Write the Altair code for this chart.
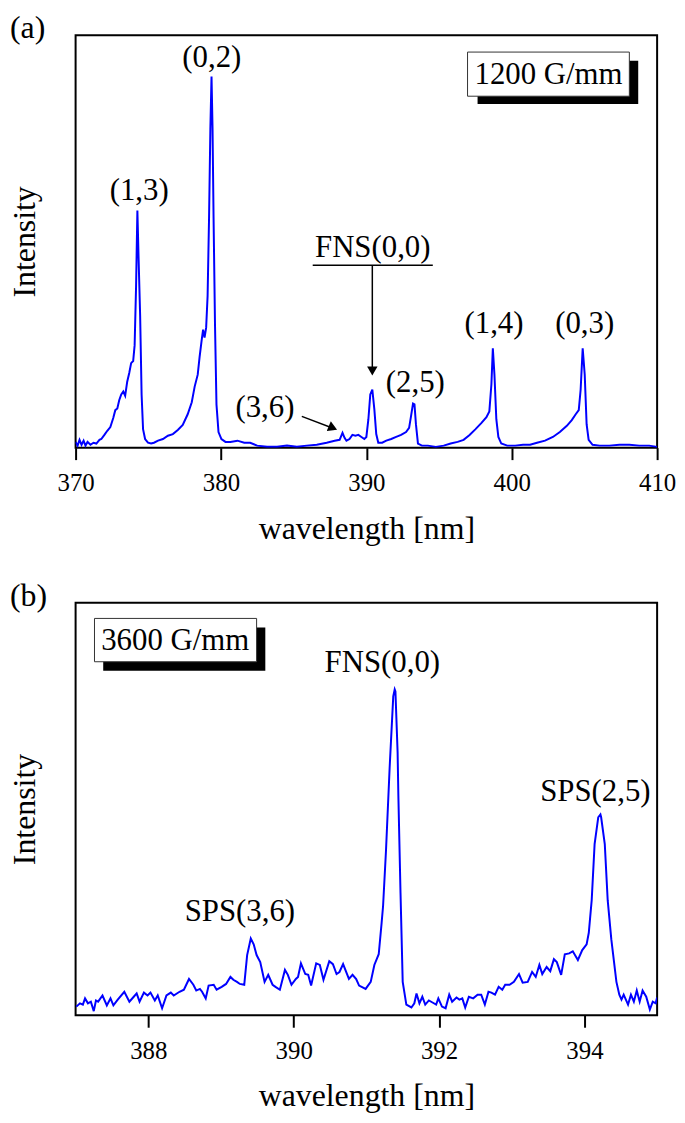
import altair as alt
import pandas as pd

FONT = "Liberation Serif"
BLUE = "#0000ff"

# ---------------- panel (a): 1200 G/mm ----------------
a_wl = [370.00, 370.14, 370.27, 370.41, 370.55, 370.68, 370.82, 371.02, 371.23, 371.43,
        371.64, 371.77, 371.98, 372.18, 372.39, 372.59, 372.73, 372.87, 373.00, 373.14,
        373.28, 373.41, 373.55, 373.69, 373.82, 373.96, 374.06, 374.16, 374.25, 374.33,
        374.44, 374.54, 374.64, 374.78, 374.98, 375.19, 375.39, 375.67, 376.01, 376.35,
        376.69, 377.03, 377.37, 377.71, 377.99, 378.19, 378.40, 378.53, 378.67, 378.77,
        378.87, 378.98, 379.08, 379.18, 379.27, 379.35, 379.42, 379.49, 379.59, 379.69,
        379.83, 380.03, 380.31, 380.65, 381.13, 381.60, 382.01, 382.49, 383.17, 383.86,
        384.54, 385.22, 385.90, 386.59, 387.27, 387.82, 388.16, 388.36, 388.50, 388.63,
        388.84, 389.04, 389.25, 389.45, 389.66, 389.86, 390.00, 390.14, 390.27, 390.41,
        390.55, 390.68, 390.82, 391.09, 391.37, 391.71, 392.05, 392.39, 392.73, 392.94,
        393.07, 393.21, 393.31, 393.41, 393.55, 393.82, 394.23, 394.78, 395.32, 395.80,
        396.28, 396.69, 397.10, 397.51, 397.92, 398.26, 398.46, 398.60, 398.70, 398.81,
        398.94, 399.08, 399.28, 399.69, 400.24, 400.78, 401.26, 401.74, 402.29, 402.83,
        403.31, 403.79, 404.13, 404.40, 404.61, 404.74, 404.88, 405.02, 405.15, 405.29,
        405.56, 406.04, 406.72, 407.41, 408.09, 408.77, 409.45, 410.00]
a_int = [1.4, 0.5, 1.9, 0.7, 1.7, 0.5, 1.4, 0.7, 1.2, 1.0,
         1.9, 2.1, 3.1, 4.1, 5.0, 7.2, 9.1, 9.5, 11.5, 12.9,
         13.6, 12.6, 16.0, 18.1, 20.5, 21.0, 24.8, 39.1, 57.5, 46.3,
         32.0, 12.9, 4.5, 2.1, 1.2, 1.0, 1.2, 1.7, 2.1, 2.9,
         3.3, 4.3, 5.5, 8.1, 11.0, 14.8, 17.7, 22.0, 26.0, 28.6,
         26.7, 29.1, 36.8, 55.8, 77.3, 90.0, 77.3, 55.8, 29.6, 10.5,
         3.8, 2.1, 1.4, 1.4, 1.7, 1.2, 1.2, 0.5, 0.2, 0.2,
         0.5, 0.2, 0.5, 0.7, 1.2, 1.7, 1.9, 3.6, 2.4, 1.7,
         2.1, 3.1, 2.9, 3.1, 2.6, 2.1, 2.6, 6.9, 12.9, 14.1,
         9.3, 3.3, 1.2, 1.2, 1.7, 2.1, 2.6, 3.1, 3.8, 4.8,
         7.6, 10.7, 10.5, 5.7, 1.0, 0.5, 0.5, 0.2, 0.5, 1.0,
         1.4, 1.9, 3.1, 4.5, 6.0, 7.4, 8.8, 15.3, 24.1, 17.7,
         6.9, 2.6, 1.0, 0.5, 0.5, 0.7, 0.7, 1.2, 1.7, 2.6,
         3.8, 5.3, 6.7, 8.1, 9.1, 14.1, 24.1, 17.7, 5.7, 1.9,
         0.7, 0.5, 0.5, 0.7, 0.7, 0.5, 0.5, 0.2]
a_ticks = [370, 380, 390, 400, 410]

a_label_text = ["(1,3)", "(0,2)", "FNS(0,0)", "(2,5)", "(1,4)", "(0,3)", "(3,6)"]
a_label_wl = [374.37, 379.37, 390.44, 393.37, 398.78, 405.02, 383.02]
a_label_int = [60.1, 92.4, 46.3, 13.4, 27.7, 27.7, 7.4]

# underline of FNS label, arrow to FNS peak, arrow to (3,6)
a_rule_wl = [386.31, 390.41, 385.56]
a_rule_wl2 = [394.57, 390.41, 387.80]
a_rule_int = [44.2, 44.2, 7.6]
a_rule_int2 = [44.2, 19.5, 4.6]
a_head_wl = [390.41, 387.70]
a_head_int = [18.6, 4.8]
a_head_shape = ["triangle-down", "triangle-right"]
a_head_angle = [0, 23]

a_box = ["1200 G/mm"]
a_box_wl = [396.96]
a_box_wl2 = [408.09]
a_box_int = [95.9]
a_box_int2 = [85.2]
a_shadow_wl = [397.65]
a_shadow_wl2 = [408.70]
a_shadow_int = [93.8]
a_shadow_int2 = [83.3]
a_box_text_wl = [402.53]
a_box_text_int = [88.1]

# ---------------- panel (b): 3600 G/mm ----------------
b_wl = [387.01, 387.06, 387.10, 387.13, 387.17, 387.21, 387.25, 387.28, 387.31, 387.37,
        387.43, 387.48, 387.52, 387.58, 387.67, 387.74, 387.80, 387.84, 387.88, 387.94,
        387.99, 388.03, 388.09, 388.13, 388.19, 388.25, 388.31, 388.35, 388.43, 388.49,
        388.56, 388.62, 388.66, 388.71, 388.74, 388.79, 388.83, 388.90, 388.94, 389.01,
        389.07, 389.13, 389.17, 389.22, 389.26, 389.32, 389.36, 389.41, 389.45, 389.49,
        389.54, 389.60, 389.65, 389.71, 389.75, 389.81, 389.88, 389.92, 389.97, 390.03,
        390.06, 390.10, 390.16, 390.20, 390.24, 390.31, 390.36, 390.41, 390.49, 390.54,
        390.59, 390.63, 390.68, 390.76, 390.81, 390.86, 390.90, 390.99, 391.06, 391.11,
        391.17, 391.21, 391.23, 391.27, 391.32, 391.37, 391.39, 391.40, 391.43, 391.44,
        391.47, 391.50, 391.55, 391.62, 391.66, 391.69, 391.73, 391.77, 391.81, 391.86,
        391.91, 391.96, 391.99, 392.04, 392.09, 392.14, 392.18, 392.24, 392.28, 392.32,
        392.36, 392.41, 392.47, 392.53, 392.58, 392.63, 392.68, 392.72, 392.77, 392.82,
        392.87, 392.91, 392.97, 393.03, 393.10, 393.15, 393.22, 393.28, 393.33, 393.38,
        393.42, 393.48, 393.53, 393.58, 393.62, 393.68, 393.73, 393.79, 393.84, 393.91,
        393.97, 394.03, 394.06, 394.10, 394.14, 394.19, 394.22, 394.23, 394.28, 394.32,
        394.37, 394.44, 394.48, 394.51, 394.54, 394.60, 394.64, 394.68, 394.72, 394.76,
        394.80, 394.85, 394.90, 394.94, 394.98, 395.00]
b_int = [2.1, 2.9, 2.6, 4.1, 2.9, 3.3, 1.0, 3.6, 3.3, 4.8,
         2.4, 4.1, 2.4, 3.8, 5.7, 3.3, 4.5, 5.3, 3.3, 5.5,
         4.8, 5.5, 3.6, 4.8, 1.7, 4.8, 5.5, 4.8, 5.7, 6.2,
         8.8, 7.4, 6.0, 6.4, 5.7, 4.1, 7.2, 7.4, 6.2, 6.9,
         7.6, 9.3, 8.6, 8.1, 7.6, 7.4, 14.6, 18.6, 17.2, 14.6,
         12.9, 8.1, 9.8, 7.4, 6.9, 6.2, 11.0, 9.8, 7.4, 8.8,
         9.3, 12.6, 10.0, 9.8, 7.2, 12.6, 12.2, 8.6, 13.1, 12.4,
         10.0, 10.5, 12.4, 8.8, 9.8, 8.8, 7.2, 6.4, 8.1, 12.2,
         14.8, 22.4, 26.5, 39.9, 59.9, 77.3, 79.0, 78.5, 63.7, 53.5,
         29.6, 8.1, 2.6, 1.9, 2.9, 5.3, 2.9, 4.5, 2.6, 3.6,
         3.1, 2.6, 4.1, 2.1, 1.7, 5.0, 3.3, 4.3, 3.8, 4.1,
         1.9, 4.5, 4.1, 5.0, 5.0, 2.6, 5.7, 5.5, 5.0, 6.9,
         6.2, 7.4, 7.4, 8.1, 10.0, 7.9, 8.1, 10.5, 9.3, 12.2,
         10.0, 11.7, 10.7, 13.6, 12.9, 9.8, 14.8, 15.0, 15.5, 13.4,
         15.8, 17.2, 20.0, 27.9, 41.5, 48.0, 48.7, 48.0, 41.5, 27.9,
         18.4, 8.1, 5.0, 3.8, 5.0, 2.6, 5.0, 3.3, 6.0, 3.3,
         6.0, 4.5, 1.4, 3.3, 2.9, 4.3]
b_ticks = [388, 390, 392, 394]

b_label_text = ["FNS(0,0)", "SPS(3,6)", "SPS(2,5)"]
b_label_wl = [391.22, 389.26, 394.15]
b_label_int = [83.3, 22.9, 51.9]

b_box = ["3600 G/mm"]
b_box_wl = [387.26]
b_box_wl2 = [389.49]
b_box_int = [96.2]
b_box_int2 = [85.7]
b_shadow_wl = [387.38]
b_shadow_wl2 = [389.61]
b_shadow_int = [94.0]
b_shadow_int2 = [83.5]
b_box_text_wl = [388.37]
b_box_text_int = [88.5]

W = 585
H = 415


def panel(tag, wl, inten, domain, ticks, lab_text, lab_wl, lab_int,
          box_text, bx, bx2, by, by2, sx, sx2, sy, sy2, tx, ty,
          rules=None, heads=None):
    xs = alt.Scale(domain=domain, nice=False, zero=False)
    ys = alt.Scale(domain=[0, 100], nice=False, zero=False)
    xaxis = alt.Axis(values=ticks, format="d", grid=False, domain=False,
                     tickSize=12, tickWidth=2, tickColor="black",
                     labelFont=FONT, labelFontSize=25, labelColor="black",
                     labelPadding=11, labelFlush=False,
                     title="wavelength [nm]", titleFont=FONT, titleFontSize=32,
                     titleFontWeight="normal", titleColor="black", titlePadding=18)
    yaxis = alt.Axis(labels=False, ticks=False, domain=False, grid=False,
                     title="Intensity", titleFont=FONT, titleFontSize=32,
                     titleFontWeight="normal", titleColor="black", titlePadding=34)
    X = alt.X("wl:Q", scale=xs, axis=xaxis)
    Y = alt.Y("v:Q", scale=ys, axis=yaxis)

    spec = pd.DataFrame({"wl": wl, "v": inten})
    line = alt.Chart(spec).mark_line(color=BLUE, strokeWidth=2, clip=True).encode(x=X, y=Y)

    labs = pd.DataFrame({"wl": lab_wl, "v": lab_int, "t": lab_text})
    text = alt.Chart(labs).mark_text(font=FONT, fontSize=31, color="black",
                                     align="center", baseline="alphabetic").encode(
        x=X, y=Y, text="t:N")

    shadow = alt.Chart(pd.DataFrame({"wl": sx, "wl2": sx2, "v": sy, "v2": sy2})).mark_rect(
        color="black").encode(x=X, x2="wl2:Q", y=Y, y2="v2:Q")
    box = alt.Chart(pd.DataFrame({"wl": bx, "wl2": bx2, "v": by, "v2": by2})).mark_rect(
        fill="white", stroke="#333333", strokeWidth=1).encode(x=X, x2="wl2:Q", y=Y, y2="v2:Q")
    btext = alt.Chart(pd.DataFrame({"wl": tx, "v": ty, "t": box_text})).mark_text(
        font=FONT, fontSize=31, color="black", align="center", baseline="alphabetic").encode(
        x=X, y=Y, text="t:N")

    layers = [line, shadow, box, btext, text]
    if rules is not None:
        r = alt.Chart(pd.DataFrame(rules)).mark_rule(color="black", strokeWidth=1.5).encode(
            x=X, x2="wl2:Q", y=Y, y2="v2:Q")
        layers.append(r)
    if heads is not None:
        h = alt.Chart(pd.DataFrame(heads)).mark_point(
            filled=True, color="black", opacity=1, size=110).encode(
            x=X, y=Y, shape=alt.Shape("s:N", scale=None), angle=alt.Angle("a:Q", scale=None))
        layers.append(h)

    return alt.layer(*layers).properties(
        width=W, height=H,
        title=alt.TitleParams(tag, anchor="start", frame="group", font=FONT, fontSize=32,
                              fontWeight="normal", color="black", dx=-66, offset=-10))


pa = panel("(a)", a_wl, a_int, [370, 410], a_ticks, a_label_text, a_label_wl, a_label_int,
           a_box, a_box_wl, a_box_wl2, a_box_int, a_box_int2,
           a_shadow_wl, a_shadow_wl2, a_shadow_int, a_shadow_int2,
           a_box_text_wl, a_box_text_int,
           rules={"wl": a_rule_wl, "wl2": a_rule_wl2, "v": a_rule_int, "v2": a_rule_int2},
           heads={"wl": a_head_wl, "v": a_head_int, "s": a_head_shape, "a": a_head_angle})

pb = panel("(b)", b_wl, b_int, [387, 395], b_ticks, b_label_text, b_label_wl, b_label_int,
           b_box, b_box_wl, b_box_wl2, b_box_int, b_box_int2,
           b_shadow_wl, b_shadow_wl2, b_shadow_int, b_shadow_int2,
           b_box_text_wl, b_box_text_int)

chart = alt.vconcat(pa, pb, spacing=34).properties(
    padding=0, background="white"
).configure_view(stroke="black", strokeWidth=2)

chart.save("out.html", embed_options={"renderer": "svg", "actions": False})
